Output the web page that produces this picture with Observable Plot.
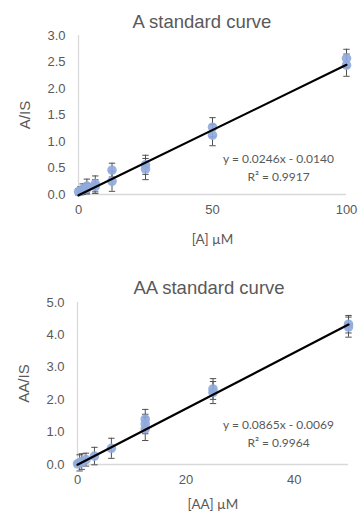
<!DOCTYPE html>
<html><head><meta charset="utf-8">
<script src="https://cdn.jsdelivr.net/npm/d3@7"></script>
<script src="https://cdn.jsdelivr.net/npm/@observablehq/plot@0.6"></script>
<style>
body{margin:0;background:#fff;}
#wrap{position:relative;width:358px;height:515px;font-family:"Liberation Sans",Arial,sans-serif;overflow:hidden;}
.title{position:absolute;text-align:center;color:#595959;font-size:18.5px;line-height:1;white-space:nowrap;}
.chart{position:absolute;left:0;}
</style></head><body>
<div id="wrap">
<div class="chart" id="c1" style="top:0px"></div>
<div class="chart" id="c2" style="top:255px"></div>
<div class="title" style="left:52px;width:300px;top:13px;">A standard curve</div>
<div class="title" style="left:59px;width:300px;top:279px;">AA standard curve</div>
</div>
<script>
// ---- Chart A data ----
const aConc = [0, 0.78, 1.56, 3.125, 3.125, 6.25, 6.25, 12.5, 12.5, 25, 25, 50, 50, 100, 100];
const aRatio = [0.05, 0.07, 0.1, 0.16, 0.11, 0.2, 0.15, 0.46, 0.25, 0.56, 0.48, 1.27, 1.12, 2.57, 2.44];
const aErr = [0.06, 0.08, 0.1, 0.13, 0.1, 0.15, 0.13, 0.13, 0.19, 0.18, 0.2, 0.18, 0.2, 0.17, 0.21];
const aXTicks = [0, 50, 100];
const aYTicks = [0, 0.5, 1.0, 1.5, 2.0, 2.5, 3.0];
const aSlope = 0.0246, aIntercept = -0.0140;
const aEquation = "y = 0.0246x - 0.0140";
const aR2 = "R² = 0.9917";

// ---- Chart AA data ----
const bConc = [0, 0.39, 0.78, 1.56, 3.125, 6.25, 12.5, 12.5, 12.5, 25, 25, 50, 50];
const bRatio = [0.02, 0.05, 0.09, 0.15, 0.26, 0.5, 1.4, 1.25, 1.1, 2.33, 2.22, 4.33, 4.24];
const bErr = [0.05, 0.25, 0.24, 0.2, 0.27, 0.31, 0.3, 0.3, 0.36, 0.32, 0.34, 0.27, 0.31];
const bXTicks = [0, 20, 40];
const bYTicks = [0, 1, 2, 3, 4, 5];
const bSlope = 0.0865, bIntercept = -0.0069;
const bEquation = "y = 0.0865x - 0.0069";
const bR2 = "R² = 0.9964";

const cap = {draw(ctx, size){ const w = Math.sqrt(size/Math.PI); ctx.moveTo(-w,0); ctx.lineTo(w,0); }};

function chart(o){
  const rows = o.xs.map((x,i)=>({x, y:o.ys[i], lo:o.ys[i]-o.es[i], hi:o.ys[i]+o.es[i]}));
  const fit = o.xDomain.map(x=>({x, y:o.slope*x+o.intercept}));
  return Plot.plot({
    width:358, height:o.height,
    marginTop:o.mt, marginBottom:o.mb, marginLeft:o.ml, marginRight:o.mr,
    style:{fontFamily:"'Liberation Sans', Arial, sans-serif", color:"#595959", background:"transparent"},
    x:{domain:o.xDomain},
    y:{domain:o.yDomain},
    marks:[
      Plot.ruleX([o.xDomain[0]], {stroke:"#d9d9d9", strokeWidth:1.3}),
      Plot.ruleY([o.yDomain[0]], {stroke:"#d9d9d9", strokeWidth:1.3}),
      Plot.axisY({ticks:o.yTicks, tickSize:0, tickPadding:13, tickFormat:d=>d.toFixed(1), fontSize:13, label:null}),
      Plot.axisX({ticks:o.xTicks, tickSize:0, tickPadding:10, tickFormat:d=>String(d), fontSize:13, label:null}),
      Plot.ruleX(rows, {x:"x", y1:"lo", y2:"hi", stroke:"#505050", strokeWidth:1}),
      Plot.dot(rows, {x:"x", y:"lo", symbol:cap, r:3.2, stroke:"#505050", strokeWidth:1}),
      Plot.dot(rows, {x:"x", y:"hi", symbol:cap, r:3.2, stroke:"#505050", strokeWidth:1}),
      Plot.dot(rows, {x:"x", y:"y", r:4.8, fill:"#8faadc", fillOpacity:0.9}),
      Plot.line(fit, {x:"x", y:"y", stroke:"#000", strokeWidth:2.2}),
      Plot.text([o.eq], {frameAnchor:"bottom-right", dx:o.eqDx, dy:o.eqDy, textAnchor:"middle", fontSize:12, fontFamily:"Lato, 'Open Sans', sans-serif", fill:"#595959"}),
      Plot.text([o.r2], {frameAnchor:"bottom-right", dx:o.eqDx, dy:o.eqDy+18, textAnchor:"middle", fontSize:12, fontFamily:"Lato, 'Open Sans', sans-serif", fill:"#595959"}),
      Plot.text([o.ylabel], {frameAnchor:"left", dx:-53, rotate:-90, textAnchor:"middle", fontSize:15, fill:"#595959"}),
      Plot.text([o.xlabel], {frameAnchor:"bottom", dy:o.xlDy, textAnchor:"middle", fontSize:13.5, fontFamily:"Lato, 'Open Sans', sans-serif", fill:"#595959"})
    ]
  });
}

document.getElementById("c1").append(chart({
  xs:aConc, ys:aRatio, es:aErr, xDomain:[0,100], yDomain:[0,3], xTicks:aXTicks, yTicks:aYTicks,
  slope:aSlope, intercept:aIntercept, eq:aEquation, r2:aR2, ylabel:"A/IS", xlabel:"[A] µM",
  height:255, mt:35, mb:61, ml:78, mr:12, eqDx:-68, eqDy:-32, xlDy:49
}));
document.getElementById("c2").append(chart({
  xs:bConc, ys:bRatio, es:bErr, xDomain:[0,50], yDomain:[0,5], xTicks:bXTicks, yTicks:bYTicks,
  slope:bSlope, intercept:bIntercept, eq:bEquation, r2:bR2, ylabel:"AA/IS", xlabel:"[AA] µM",
  height:260, mt:47, mb:51, ml:77, mr:10, eqDx:-70, eqDy:-36, xlDy:44
}));
</script>
</body></html>
